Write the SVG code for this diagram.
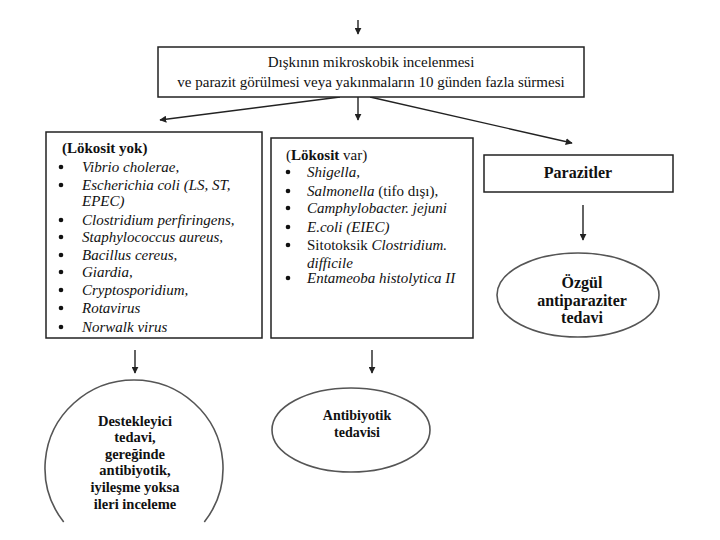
<svg xmlns="http://www.w3.org/2000/svg" width="720" height="540" viewBox="0 0 720 540">
<style>
.box{fill:#fff;stroke:#222;stroke-width:1.5}
.ell{fill:#fff;stroke:#555;stroke-width:1.6}
.t{font-family:"Liberation Serif","Times New Roman","DejaVu Serif",serif;font-size:15px;fill:#111}
.b{font-weight:bold}
.i{font-style:italic}
.c{text-anchor:middle}
.eb{font-family:"Liberation Serif","Times New Roman","DejaVu Serif",serif;font-size:16px;font-weight:bold;fill:#111;text-anchor:middle}
.sm{font-size:14.5px}
.ln{stroke:#222;stroke-width:1.4;fill:none}
.dot{fill:#111}
</style>
<defs>
<marker id="ah" viewBox="0 0 10 10" refX="9" refY="5" markerWidth="7" markerHeight="7" markerUnits="userSpaceOnUse" orient="auto">
<path d="M0,0 L10,5 L0,10 z" fill="#222"/>
</marker>
</defs>
<rect width="720" height="540" fill="#fff"/>
<g id="connectors">
<line class="ln" x1="358" y1="20" x2="358" y2="34" marker-end="url(#ah)"/>
<line class="ln" x1="340" y1="97" x2="160" y2="120" marker-end="url(#ah)"/>
<line class="ln" x1="358" y1="97" x2="358" y2="120" marker-end="url(#ah)"/>
<line class="ln" x1="370" y1="97" x2="572" y2="143" marker-end="url(#ah)"/>
<line class="ln" x1="135" y1="350" x2="135" y2="373" marker-end="url(#ah)"/>
<line class="ln" x1="372" y1="350" x2="372" y2="373" marker-end="url(#ah)"/>
<line class="ln" x1="583" y1="205" x2="583" y2="240" marker-end="url(#ah)"/>
</g>
<g id="top">
<rect class="box" x="158" y="47" width="426" height="50"/>
<text class="t c" x="371" y="67">Dışkının mikroskobik incelenmesi</text>
<text class="t c" x="371" y="87">ve parazit görülmesi veya yakınmaların 10 günden fazla sürmesi</text>
</g>
<g id="lokosit-yok">
<rect class="box" x="46" y="132" width="216" height="206"/>
<text class="t b" x="62" y="153">(Lökosit yok)</text>
<g class="dot"><circle cx="61" cy="167" r="2.3"/><circle cx="61" cy="185" r="2.3"/><circle cx="61" cy="220" r="2.3"/><circle cx="61" cy="237" r="2.3"/><circle cx="61" cy="255" r="2.3"/><circle cx="61" cy="272" r="2.3"/><circle cx="61" cy="290" r="2.3"/><circle cx="61" cy="308" r="2.3"/><circle cx="61" cy="327" r="2.3"/></g>
<text class="t i" x="82" y="172">Vibrio cholerae,</text>
<text class="t i" x="82" y="190">Escherichia coli (LS, ST,</text>
<text class="t i" x="82" y="206">EPEC)</text>
<text class="t i" x="82" y="225">Clostridium perfiringens,</text>
<text class="t i" x="82" y="242">Staphylococcus aureus,</text>
<text class="t i" x="82" y="260">Bacillus cereus,</text>
<text class="t i" x="82" y="277">Giardia,</text>
<text class="t i" x="82" y="295">Cryptosporidium,</text>
<text class="t i" x="82" y="313">Rotavirus</text>
<text class="t i" x="82" y="332">Norwalk virus</text>
</g>
<g id="lokosit-var">
<rect class="box" x="271" y="138" width="202" height="200"/>
<text class="t" x="286" y="160">(<tspan class="b">Lökosit</tspan> var)</text>
<g class="dot"><circle cx="288" cy="172" r="2.3"/><circle cx="288" cy="191" r="2.3"/><circle cx="288" cy="208" r="2.3"/><circle cx="288" cy="227" r="2.3"/><circle cx="288" cy="245" r="2.3"/><circle cx="288" cy="278" r="2.3"/></g>
<text class="t i" x="307" y="177">Shigella,</text>
<text class="t" x="307" y="196"><tspan class="i">Salmonella</tspan> (tifo dışı),</text>
<text class="t i" x="307" y="213">Camphylobacter. jejuni</text>
<text class="t i" x="307" y="232">E.coli (EIEC)</text>
<text class="t" x="307" y="250">Sitotoksik <tspan class="i">Clostridium.</tspan></text>
<text class="t i" x="307" y="268">difficile</text>
<text class="t i" x="307" y="283">Entameoba histolytica II</text>
</g>
<g id="parazitler">
<rect class="box" x="484" y="155" width="189" height="37"/>
<text class="eb" x="578" y="178">Parazitler</text>
</g>
<g id="destekleyici">
<path class="ell" d="M63.7 522 A89 88 0 1 1 204.3 522"/>
<text class="eb sm" x="135" y="426">Destekleyici</text>
<text class="eb sm" x="135" y="442">tedavi,</text>
<text class="eb sm" x="135" y="459">gereğinde</text>
<text class="eb sm" x="135" y="475">antibiyotik,</text>
<text class="eb sm" x="135" y="492">iyileşme yoksa</text>
<text class="eb sm" x="135" y="509">ileri inceleme</text>
</g>
<g id="antibiyotik">
<ellipse class="ell" cx="351" cy="430" rx="79" ry="42"/>
<text class="eb" x="357" y="420" style="font-size:14px">Antibiyotik</text>
<text class="eb" x="357" y="437" style="font-size:14px">tedavisi</text>
</g>
<g id="ozgul">
<ellipse class="ell" cx="578" cy="295" rx="81" ry="42"/>
<text class="eb" x="582" y="288">Özgül</text>
<text class="eb" x="582" y="306">antiparaziter</text>
<text class="eb" x="582" y="323">tedavi</text>
</g>
</svg>
